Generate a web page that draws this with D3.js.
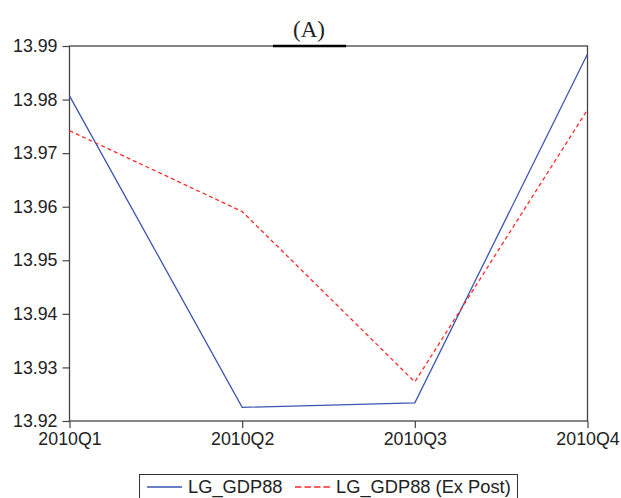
<!DOCTYPE html>
<html>
<head>
<meta charset="utf-8">
<script src="https://cdn.jsdelivr.net/npm/d3@7"></script>
<style>
  body { margin: 0; background: #fff; }
  text { font-family: "Liberation Sans", Arial, sans-serif; fill: #222; }
</style>
</head>
<body>
<div id="chart"></div>
<script>
const quarters = ["2010Q1", "2010Q2", "2010Q3", "2010Q4"];
const lg_gdp88 = [13.9807, 13.92255, 13.9234, 13.9885];
const lg_gdp88_expost = [13.9742, 13.9591, 13.9273, 13.9781];
const y_ticks = [13.92, 13.93, 13.94, 13.95, 13.96, 13.97, 13.98, 13.99];
const series_names = ["LG_GDP88", "LG_GDP88 (Ex Post)"];

const width = 621;
const height = 498;
const plot_left = 69.5, plot_right = 587.5, plot_top = 46, plot_bottom = 421;

const svg = d3.select("#chart").append("svg")
  .attr("width", width)
  .attr("height", height);

const x = d3.scalePoint().domain(quarters).range([plot_left, plot_right]);
const y = d3.scaleLinear().domain([13.92, 13.99]).range([plot_bottom, plot_top]);

// frame
svg.append("rect")
  .attr("x", plot_left).attr("y", plot_top)
  .attr("width", plot_right - plot_left).attr("height", plot_bottom - plot_top)
  .attr("fill", "none").attr("stroke", "#444").attr("stroke-width", 1.3);

// axes
const yAxis = svg.append("g")
  .attr("transform", `translate(${plot_left},0)`)
  .call(d3.axisLeft(y).tickValues(y_ticks).tickFormat(d3.format(".2f")).tickSize(7).tickPadding(5));
const xAxis = svg.append("g")
  .attr("transform", `translate(0,${plot_bottom})`)
  .call(d3.axisBottom(x).tickSize(7).tickPadding(4));

[yAxis, xAxis].forEach(a => {
  a.select(".domain").remove();
  a.selectAll(".tick line").attr("stroke", "#444").attr("stroke-width", 1.2);
  a.selectAll(".tick text").style("font-size", "17.8px").attr("fill", "#222");
});

// lines
const line = d3.line()
  .x((d, i) => x(quarters[i]))
  .y(d => y(d));

svg.append("path")
  .datum(lg_gdp88)
  .attr("d", line)
  .attr("fill", "none")
  .attr("stroke", "#3a56b0")
  .attr("stroke-width", 1.3);

svg.append("path")
  .datum(lg_gdp88_expost)
  .attr("d", line)
  .attr("fill", "none")
  .attr("stroke", "#ff2a2a")
  .attr("stroke-width", 1.3)
  .attr("stroke-dasharray", "4,3");

// title
svg.append("line")
  .attr("x1", 273).attr("x2", 346).attr("y1", plot_top).attr("y2", plot_top)
  .attr("stroke", "#000").attr("stroke-width", 2.5);
svg.append("text")
  .attr("x", 309).attr("y", 37)
  .attr("text-anchor", "middle")
  .style("font-family", "'Liberation Serif', 'Times New Roman', serif")
  .style("font-size", "23px")
  .attr("fill", "#000")
  .text("(A)");

// legend
const lg = svg.append("g");
lg.append("rect")
  .attr("x", 139.5).attr("y", 474.5)
  .attr("width", 378).attr("height", 30)
  .attr("fill", "#fff").attr("stroke", "#333").attr("stroke-width", 1);
lg.append("line")
  .attr("x1", 147).attr("x2", 182).attr("y1", 487).attr("y2", 487)
  .attr("stroke", "#3a56b0").attr("stroke-width", 1.3);
lg.append("text").attr("x", 188).attr("y", 493)
  .style("font-size", "18.3px").text(series_names[0]);
lg.append("line")
  .attr("x1", 295).attr("x2", 330).attr("y1", 487).attr("y2", 487)
  .attr("stroke", "#ff2a2a").attr("stroke-width", 1.3)
  .attr("stroke-dasharray", "6.5,3");
lg.append("text").attr("x", 336).attr("y", 493)
  .style("font-size", "18.3px").text(series_names[1]);
</script>
</body>
</html>
